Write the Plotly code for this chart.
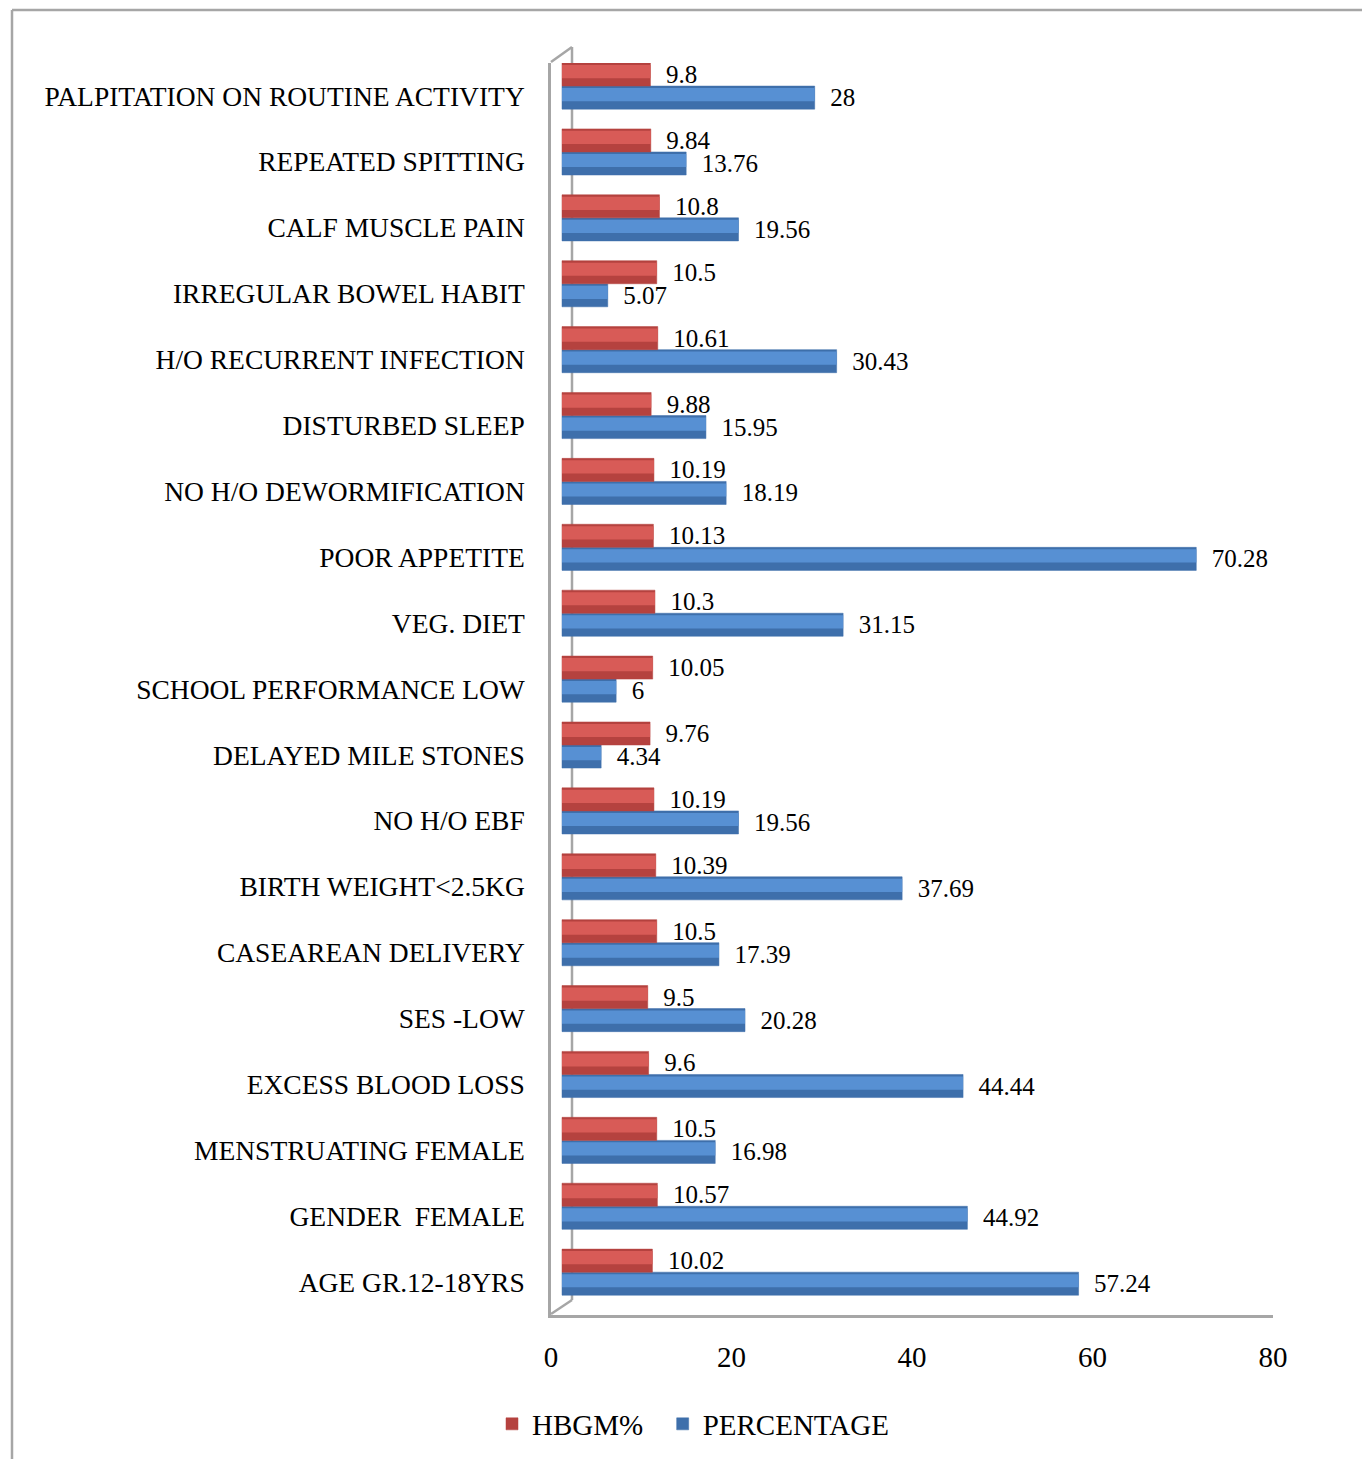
import plotly.graph_objects as go

# Categories listed top to bottom as shown in the chart
categories = [
    "PALPITATION ON ROUTINE ACTIVITY",
    "REPEATED SPITTING",
    "CALF MUSCLE PAIN",
    "IRREGULAR BOWEL HABIT",
    "H/O RECURRENT INFECTION",
    "DISTURBED SLEEP",
    "NO H/O DEWORMIFICATION",
    "POOR APPETITE",
    "VEG. DIET",
    "SCHOOL PERFORMANCE LOW",
    "DELAYED MILE STONES",
    "NO H/O EBF",
    "BIRTH WEIGHT<2.5KG",
    "CASEAREAN DELIVERY",
    "SES -LOW",
    "EXCESS BLOOD LOSS",
    "MENSTRUATING FEMALE",
    "GENDER  FEMALE",
    "AGE GR.12-18YRS",
]
hbgm = [9.8, 9.84, 10.8, 10.5, 10.61, 9.88, 10.19, 10.13, 10.3, 10.05,
        9.76, 10.19, 10.39, 10.5, 9.5, 9.6, 10.5, 10.57, 10.02]
percentage = [28, 13.76, 19.56, 5.07, 30.43, 15.95, 18.19, 70.28, 31.15, 6,
              4.34, 19.56, 37.69, 17.39, 20.28, 44.44, 16.98, 44.92, 57.24]
x_ticks = [0, 20, 40, 60, 80]

W, H = 1362, 1460
L, R, T, B = 551, 89, 63, 144
PW, PH = W - L - R, H - T - B


def px(x):
    return (x - L) / PW


def py(y):
    return (H - B - y) / PH


SERIF = "Liberation Serif, Times New Roman, serif"
NB = "\u00a0"

series = [
    # name, values, offset, dark, light, rank
    ("PERCENTAGE", percentage, -0.2, "#3E6FAB", "#5790D3", 2),
    ("HBGM%" + NB * 2, hbgm, 0.15, "#B5423F", "#D85B57", 1),
]

fig = go.Figure()
for name, vals, off, dark, light, rank in series:
    fig.add_trace(go.Bar(
        name=name, y=categories, x=vals, orientation="h",
        marker=dict(color=dark, line=dict(color=dark, width=0.5)),
        width=0.35, offset=off,
        text=[NB * 2 + f"{v:g}" for v in vals], textposition="outside",
        textfont=dict(family=SERIF, size=25, color="#000"),
        constraintext="none", cliponaxis=False, legendrank=rank,
    ))
    # lighter upper body to suggest the cylinder shading
    fig.add_trace(go.Bar(
        y=categories, x=vals, orientation="h",
        marker=dict(color=light, line=dict(width=0)),
        width=0.2, offset=off + 0.12, showlegend=False, hoverinfo="skip",
    ))

depth = 11 / (PW / 80)
gray = "#A6A6A6"
fig.update_layout(
    width=W, height=H,
    margin=dict(l=L, r=R, t=T, b=B),
    paper_bgcolor="white", plot_bgcolor="white",
    barmode="overlay",
    font=dict(family=SERIF, color="#000"),
    xaxis=dict(range=[-depth, 80 - depth], showticklabels=False, showgrid=False,
               zeroline=False, showline=False, ticks=""),
    xaxis2=dict(range=[0, 80], overlaying="x", side="bottom", anchor="y",
                tickvals=x_ticks, showgrid=False, zeroline=False,
                showline=True, linecolor=gray, linewidth=3,
                tickfont=dict(family=SERIF, size=29), ticklabelstandoff=14),
    yaxis=dict(categoryorder="array", categoryarray=list(reversed(categories)),
               range=[-0.5, len(categories) - 0.5], showgrid=False,
               showline=True, linecolor=gray, linewidth=2.5,
               tickfont=dict(family=SERIF, size=27.5), ticklabelstandoff=18),
    legend=dict(orientation="h", x=px(492), y=py(1424), xanchor="left",
                yanchor="middle", font=dict(family=SERIF, size=29),
                traceorder="normal"),
    showlegend=True,
)
# invisible points so the secondary (tick) axis is drawn
fig.add_trace(go.Scatter(x=[0, 80], y=[categories[-1], categories[-1]], xaxis="x2",
                         mode="markers", marker=dict(opacity=0), showlegend=False,
                         hoverinfo="skip"))

shapes = [
    # outer frame
    dict(x0=px(12), x1=px(1362), y0=py(10), y1=py(10)),
    dict(x0=px(12), x1=px(12), y0=py(10), y1=py(1460)),
    # 3D wall
    dict(x0=px(551), x1=px(572), y0=py(62), y1=py(47)),
    dict(x0=px(572), x1=px(572), y0=py(47), y1=py(1301)),
    dict(x0=px(551), x1=px(572), y0=py(1315), y1=py(1301)),
]
for s in shapes:
    s.update(type="line", xref="paper", yref="paper", layer="below",
             line=dict(color=gray, width=2.5))
fig.update_layout(shapes=shapes)

fig.write_html("out.html")
